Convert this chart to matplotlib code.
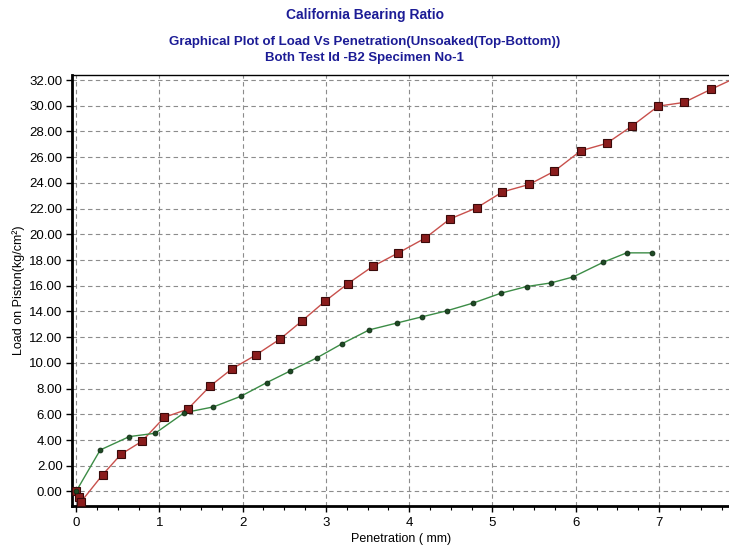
"""
CBR load vs penetration plot (unsoaked, top and bottom).
"""

import matplotlib
matplotlib.use("Agg")
import matplotlib.pyplot as plt
from matplotlib.ticker import MultipleLocator, FormatStrFormatter

# Penetration (mm) and load (kg/cm2) for both faces of the specimen
pen_top = [0.0, 0.04, 0.06, 0.32, 0.54, 0.79, 1.06, 1.34, 1.61, 1.87, 2.16, 2.45,
           2.71, 2.99, 3.26, 3.56, 3.87, 4.19, 4.49, 4.81, 5.12, 5.44, 5.74, 6.06,
           6.37, 6.67, 6.99, 7.30, 7.62, 7.93]
load_top = [0.0, -0.45, -0.8, 1.31, 2.9, 3.9, 5.77, 6.4, 8.2, 9.53, 10.62, 11.86,
            13.25, 14.8, 16.15, 17.5, 18.56, 19.7, 21.2, 22.06, 23.3, 23.88, 24.9, 26.5,
            27.07, 28.4, 29.97, 30.26, 31.27, 32.2]

pen_bottom = [0.0, 0.29, 0.64, 0.95, 1.30, 1.65, 1.98, 2.29, 2.57, 2.89, 3.19, 3.52,
              3.85, 4.15, 4.45, 4.77, 5.10, 5.41, 5.70, 5.97, 6.33, 6.61, 6.92]
load_bottom = [0.0, 3.23, 4.27, 4.53, 6.13, 6.58, 7.41, 8.47, 9.37, 10.39, 11.48, 12.57,
               13.1, 13.58, 14.05, 14.66, 15.42, 15.94, 16.22, 16.69, 17.83, 18.56, 18.56]

y_ticks = list(range(0, 33, 2))
x_ticks = list(range(0, 8))

plt.rcParams["font.family"] = ["Liberation Sans", "DejaVu Sans"]
TITLE_BLUE = "#1c1c96"

fig = plt.figure(figsize=(7.29, 5.48), dpi=100)
ax = fig.add_axes([0.0992, 0.0766, 0.9008, 0.786])

ax.plot(pen_top, load_top, "-", color="#c8504c", linewidth=1.0, zorder=3)
ax.plot(pen_top, load_top, "s", markersize=5.5, markerfacecolor="#8a1c1c",
        markeredgecolor="#3a0a0a", markeredgewidth=0.8, zorder=4)
ax.plot(pen_bottom, load_bottom, "-", color="#3c8c46", linewidth=1.0, zorder=3)
ax.plot(pen_bottom, load_bottom, "o", markersize=3.5, markerfacecolor="#1e4a24",
        markeredgecolor="#0e2a12", markeredgewidth=0.6, zorder=4)

ax.set_xlim(-0.045, 7.84)
ax.set_ylim(-1.13, 32.37)
ax.set_xticks(x_ticks)
ax.set_yticks(y_ticks)
ax.xaxis.set_minor_locator(MultipleLocator(0.25))
ax.yaxis.set_major_formatter(FormatStrFormatter("%.2f"))
ax.tick_params(axis="both", which="major", direction="out", length=4, width=1,
               labelsize=9.5, colors="black")
ax.tick_params(axis="x", which="minor", direction="out", length=3, width=0.8)
ax.tick_params(axis="x", pad=4)
ax.tick_params(axis="y", pad=3)

ax.grid(True, which="major", linestyle=(0, (4, 3)), color="#8c8c8c", linewidth=0.8)
ax.set_axisbelow(True)

ax.spines["left"].set_linewidth(2.0)
ax.spines["bottom"].set_linewidth(2.0)
ax.spines["top"].set_linewidth(1.0)
ax.spines["right"].set_visible(False)

ax.set_xlabel("Penetration ( mm)", fontsize=9, labelpad=3)
ax.set_ylabel("Load on Piston(kg/cm\u00b2)", fontsize=9, labelpad=3)

fig.text(0.5, 0.973, "California Bearing Ratio", ha="center", va="center",
         fontsize=10, fontweight="bold", color=TITLE_BLUE)
fig.text(0.5, 0.923, "Graphical Plot of Load Vs Penetration(Unsoaked(Top-Bottom))",
         ha="center", va="center", fontsize=9.5, fontweight="bold", color=TITLE_BLUE)
fig.text(0.5, 0.894, "Both Test Id -B2 Specimen No-1", ha="center", va="center",
         fontsize=9.5, fontweight="bold", color=TITLE_BLUE)

fig.savefig("out.png", dpi=100)
